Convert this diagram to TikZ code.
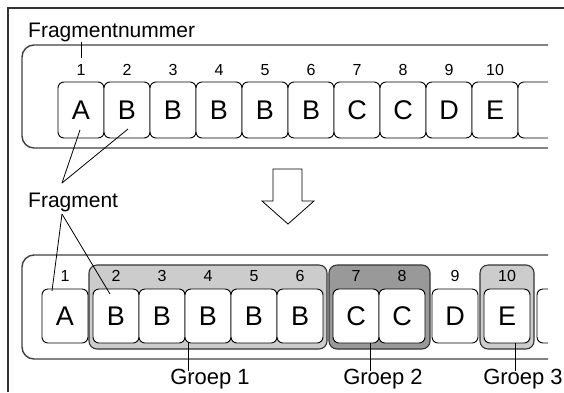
\documentclass[tikz,border=0pt]{standalone}
\usepackage{fontspec}
\setmainfont{Liberation Sans}
\usetikzlibrary{calc}
\definecolor{lichtgrijs}{gray}{0.8}
\definecolor{donkergrijs}{gray}{0.6}
\tikzset{
  frag/.style={draw,fill=white,rounded corners=6pt,line width=0.9pt,minimum width=46pt,minimum height=56pt,inner sep=0pt,font=\fontsize{27}{29}\selectfont},
  nummer/.style={inner sep=1pt,font=\fontsize{16}{18}\selectfont},
  label/.style={inner sep=0pt,font=\fontsize{21}{24}\selectfont},
  strook/.style={draw=black!75,line width=1.4pt,rounded corners=12pt},
  groep/.style={draw=black!80,line width=1.1pt,rounded corners=8pt}
}
\begin{document}
\begin{tikzpicture}[x=1pt,y=-1pt]
\useasboundingbox (0,0) rectangle (564,392);
\draw[line width=1.2pt,black!80] (8,392)--(8,8)--(564,8);
% boven
\draw[strook] (548,45)--(22,45)--(22,148)--(548,148);
\node[label,anchor=base west] (fn) at (28,37) {Fragmentnummer};
\foreach \gt[count=\i] in {A,B,B,B,B,B,C,C,D,E}{
  \node[frag] (t\i) at (81+46*\i-46,110) {\gt};
  \node[nummer] (tn\i) at (81+46*\i-46,70) {\i};
}
\draw[frag] (548,82)--(518,82)--(518,138)--(548,138);
\draw[line width=0.8pt] (fn.south -| tn1) -- ([yshift=5pt]tn1.north);
% pijl
\draw[line width=0.8pt,line join=miter] (273,169)--(302,169)--(302,201)--(314,201)--(288,224)--(262,201)--(273,201)--cycle;
% fragment
\node[label,anchor=base west] (fr) at (28,207) {Fragment};
\coordinate (fu) at (62,183);
\coordinate (fd) at (62,214);
% onder
\draw[strook] (548,255)--(22,255)--(22,359)--(548,359);
\draw[groep,fill=lichtgrijs] (89,265) rectangle (327,349);
\draw[groep,fill=donkergrijs] (329,265) rectangle (430,349);
\draw[groep,fill=lichtgrijs] (480,265) rectangle (534,349);
\foreach \x/\gt[count=\i] in {65/A,116/B,162/B,208/B,254/B,300/B,356/C,402/C,455/D,507/E}{
  \node[frag,minimum height=54pt] (b\i) at (\x,316) {\gt};
  \node[nummer] (bn\i) at (\x,276) {\i};
}
\draw[frag] (548,289)--(537,289)--(537,343)--(548,343);
\foreach \a/\dx/\dy in {t1/-1/20,t2/1/19}\draw[line width=0.8pt] (fu)--([xshift=\dx pt,yshift=-\dy pt]\a.center);
\foreach \a/\dx/\dy in {b1/-13/-25,b2/-6/-22}\draw[line width=0.8pt] (fd)--([xshift=\dx pt,yshift=-\dy pt]\a.center);
% groepen
\node[label,font=\fontsize{22}{24}\selectfont] (g1) at (210,379) {Groep 1};
\node[label,font=\fontsize{22}{24}\selectfont] (g2) at (383,379) {Groep 2};
\node[label,font=\fontsize{22}{24}\selectfont] (g3) at (523,379) {Groep 3};
\foreach \a/\dx/\g in {b4/-20/g1,b7/14/g2,b10/8/g3}\draw[line width=0.8pt] ([xshift=\dx pt]\a.south) -- ([xshift=\dx pt,yshift=-2pt]\a.south |- \g.north);
\end{tikzpicture}
\end{document}
